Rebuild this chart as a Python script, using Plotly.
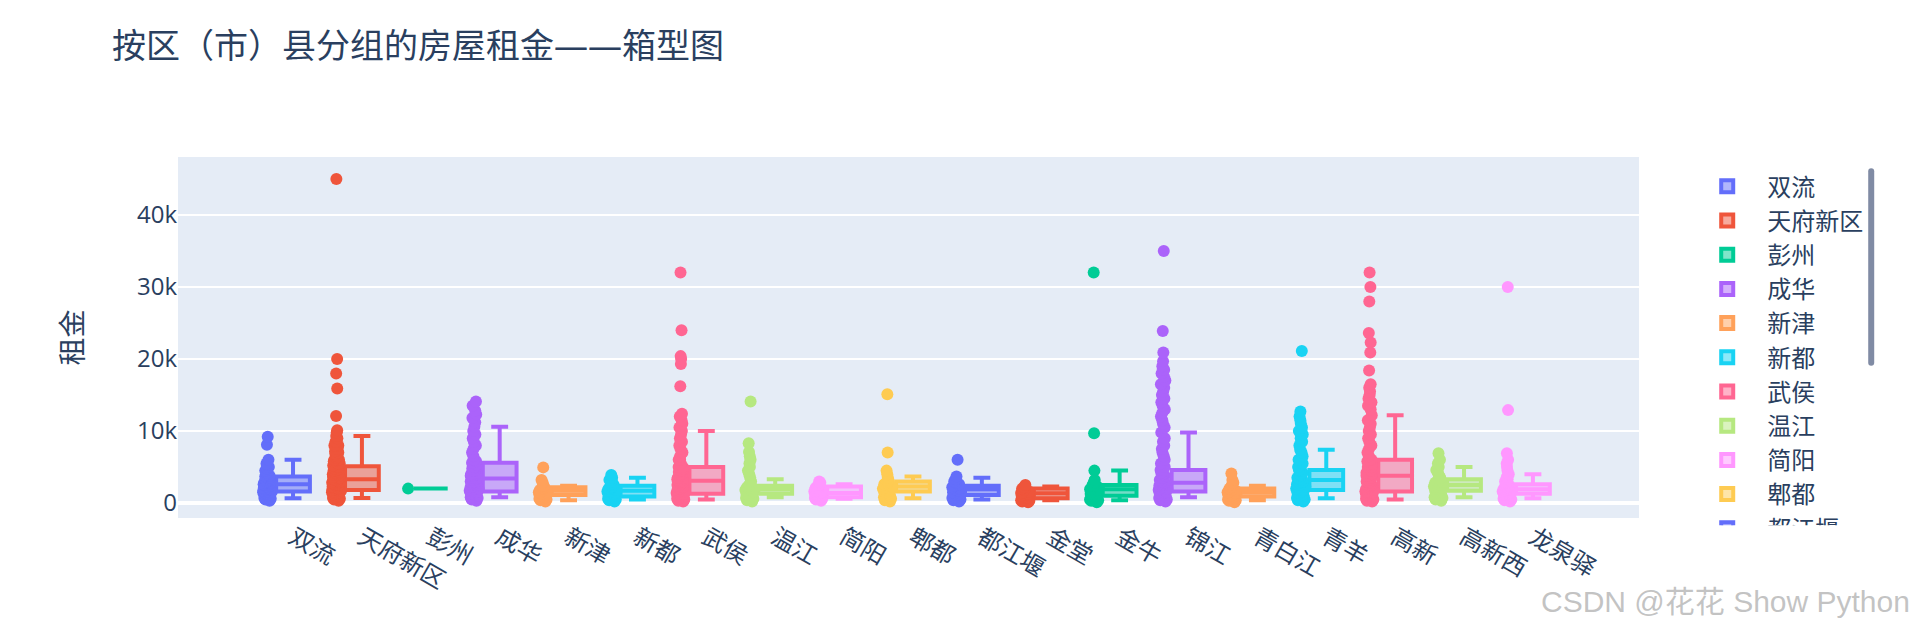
import plotly.graph_objects as go

districts = ["双流", "天府新区", "彭州", "成华", "新津", "新都", "武侯", "温江", "简阳", "郫都",
             "都江堰", "金堂", "金牛", "锦江", "青白江", "青羊", "高新", "高新西", "龙泉驿"]

colors = ["#636efa", "#EF553B", "#00cc96", "#ab63fa", "#FFA15A", "#19d3f3", "#FF6692", "#B6E880",
          "#FF97FF", "#FECB52", "#636efa", "#EF553B", "#00cc96", "#ab63fa", "#FFA15A", "#19d3f3",
          "#FF6692", "#B6E880", "#FF97FF"]

# box statistics (rent, yuan)
q1_vals = [1600, 1800, 2000, 1600, 1100, 900, 1300, 1300, 800, 1600, 1100, 650, 1000, 1600, 900, 1800, 1600, 1700, 1300]
median_vals = [2600, 3300, 2000, 3400, 1700, 1700, 3100, 1900, 1400, 2300, 1900, 1350, 1900, 2800, 1500, 3200, 3800, 2500, 1900]
q3_vals = [3700, 5100, 2000, 5600, 2200, 2400, 5000, 2400, 2300, 3000, 2400, 2000, 2500, 4600, 2000, 4600, 6000, 3300, 2600]
lower_vals = [650, 700, 2000, 800, 400, 500, 500, 800, 600, 650, 500, 400, 400, 800, 400, 650, 500, 800, 650]
upper_vals = [6000, 9300, 2000, 10600, 2400, 3500, 10000, 3300, 2600, 3700, 3500, 2300, 4500, 9800, 2400, 7400, 12200, 5000, 4000]

# sample points per district
shuangliu = [300, 500, 600, 700, 800, 900, 1000, 1000, 1100, 1200, 1200, 1300, 1400, 1500, 1500, 1600, 1600, 1700,
             1800, 1800, 1900, 2000, 2000, 2100, 2200, 2300, 2400, 2500, 2500, 2600, 2700, 2800, 2800, 3000, 3000,
             3200, 3300, 3500, 3500, 3700, 3800, 4000, 4200, 4500, 4800, 5000, 5300, 5500, 6000, 8100, 9200]
tianfu = [300, 500, 600, 700, 800, 900, 1000, 1000, 1100, 1200, 1300, 1400, 1500, 1500, 1600, 1700, 1800, 1800,
          1900, 2000, 2000, 2100, 2200, 2300, 2400, 2500, 2500, 2600, 2700, 2800, 2900, 3000, 3000, 3100, 3200,
          3300, 3400, 3500, 3500, 3600, 3800, 3900, 4000, 4000, 4200, 4300, 4500, 4500, 4700, 4800, 5000, 5000,
          5200, 5500, 5500, 5800, 6000, 6000, 6300, 6500, 6800, 7000, 7200, 7500, 8000, 8000, 8500, 9000, 9300,
          9800, 10100, 12100, 15900, 18000, 20000, 45000]
pengzhou = [2000]
chenghua = [300, 500, 700, 800, 900, 1000, 1100, 1200, 1300, 1400, 1500, 1600, 1600, 1700, 1800, 2000, 2000, 2200,
            2300, 2500, 2500, 2700, 2800, 3000, 3000, 3200, 3400, 3500, 3500, 3800, 4000, 4000, 4200, 4500, 4500,
            4800, 5000, 5000, 5300, 5600, 5800, 6000, 6500, 7000, 7500, 8000, 8500, 9000, 9500, 10000, 10600,
            11200, 11800, 12300, 12800, 13500, 14100]
xinjin = [200, 400, 500, 600, 700, 800, 900, 1000, 1000, 1100, 1200, 1300, 1400, 1500, 1500, 1600, 1700, 1800,
          2000, 2000, 2200, 2400, 2800, 3200, 4950]
xindu = [200, 400, 500, 600, 700, 800, 900, 1000, 1100, 1200, 1300, 1500, 1500, 1600, 1700, 1800, 2000, 2000,
         2200, 2300, 2500, 2700, 3000, 3200, 3500, 3900]
wuhou = [200, 300, 500, 600, 700, 800, 900, 1000, 1000, 1100, 1200, 1300, 1300, 1400, 1500, 1600, 1700, 1800,
         2000, 2000, 2200, 2300, 2500, 2500, 2700, 2800, 3000, 3000, 3100, 3300, 3500, 3500, 3800, 4000, 4000,
         4300, 4500, 4500, 4800, 5000, 5000, 5500, 6000, 6000, 6500, 7000, 7500, 8000, 8500, 9000, 9500, 10000,
         10500, 11000, 11500, 12000, 12400, 16200, 19300, 20000, 20400, 24000, 32000]
wenjiang = [200, 400, 600, 700, 800, 900, 1000, 1100, 1200, 1300, 1400, 1500, 1600, 1800, 1900, 2000, 2100, 2200,
            2400, 2600, 3000, 3500, 4000, 4500, 5000, 5500, 6000, 6500, 7100, 8300, 14100]
jianyang = [300, 500, 600, 700, 800, 900, 1000, 1100, 1200, 1300, 1400, 1400, 1500, 1600, 1700, 1800, 2000, 2100,
            2300, 2500, 2800, 3000]
pidu = [200, 400, 600, 800, 900, 1000, 1200, 1300, 1500, 1600, 1700, 1800, 2000, 2000, 2200, 2300, 2500, 2600,
        2800, 3000, 3200, 3500, 4000, 4500, 7000, 15100]
dujiangyan = [200, 400, 500, 700, 800, 1000, 1100, 1200, 1400, 1500, 1700, 1900, 2000, 2200, 2400, 2600, 2800,
              3000, 3300, 3700, 6000]
jintang = [100, 200, 300, 400, 500, 600, 700, 800, 900, 1000, 1100, 1200, 1300, 1400, 1500, 1600, 1800, 2000,
           2200, 2500]
jinniu = [100, 300, 400, 500, 700, 800, 900, 1000, 1100, 1300, 1400, 1600, 1800, 1900, 2000, 2200, 2400, 2500,
          2800, 3000, 3200, 4500, 9700, 32000]
jinjiang = [200, 400, 500, 700, 800, 900, 1000, 1100, 1200, 1400, 1500, 1600, 1600, 1800, 2000, 2000, 2200, 2400,
            2500, 2600, 2800, 2800, 3000, 3200, 3500, 3500, 3800, 4000, 4200, 4600, 5000, 5500, 6000, 6500, 7000,
            7500, 8000, 8500, 9000, 9800, 10500, 11000, 11500, 12000, 12500, 13000, 13500, 14000, 14500, 15000,
            15500, 16000, 16500, 17000, 17500, 18000, 18500, 19000, 19700, 20900, 23900, 35000]
qingbaijiang = [100, 300, 400, 500, 600, 700, 800, 900, 1000, 1100, 1200, 1300, 1400, 1500, 1600, 1700, 1800,
                2000, 2200, 2500, 2800, 3200, 4100]
qingyang = [200, 400, 500, 700, 800, 1000, 1100, 1200, 1400, 1500, 1600, 1800, 1800, 2000, 2200, 2300, 2500, 2600,
            2800, 3000, 3000, 3200, 3400, 3500, 3800, 4000, 4200, 4500, 4600, 5000, 5500, 6000, 6500, 7000, 7400,
            8000, 8500, 9000, 9500, 10000, 10500, 11000, 11500, 12000, 12700, 21100]
gaoxin = [200, 300, 500, 600, 700, 800, 900, 1000, 1100, 1200, 1300, 1400, 1500, 1600, 1600, 1800, 2000, 2000,
          2200, 2400, 2500, 2600, 2800, 3000, 3000, 3200, 3500, 3500, 3800, 3800, 4000, 4200, 4500, 4500, 4800,
          5000, 5000, 5300, 5500, 5800, 6000, 6000, 6500, 7000, 7500, 8000, 8500, 9000, 9500, 10000, 10500, 11000,
          11500, 12200, 13000, 13500, 14000, 14500, 15000, 15500, 16000, 16500, 18400, 20900, 22300, 23600, 28000,
          30000, 32000]
gaoxinxi = [300, 500, 700, 800, 1000, 1100, 1200, 1400, 1500, 1700, 1800, 2000, 2100, 2300, 2500, 2500, 2700,
            2800, 3000, 3300, 3500, 3800, 4200, 4600, 5000, 5500, 6000, 6900]
longquanyi = [200, 400, 500, 600, 700, 800, 900, 1000, 1100, 1200, 1300, 1400, 1500, 1600, 1700, 1800, 1900, 2000,
              2100, 2200, 2400, 2600, 2800, 3000, 3300, 3600, 4000, 4500, 5000, 5500, 6000, 6900, 12900, 30000]

points = [shuangliu, tianfu, pengzhou, chenghua, xinjin, xindu, wuhou, wenjiang, jianyang, pidu,
          dujiangyan, jintang, jinniu, jinjiang, qingbaijiang, qingyang, gaoxin, gaoxinxi, longquanyi]

FONT = '"Open Sans", "Noto Sans CJK SC", sans-serif'

fig = go.Figure()
for i, name in enumerate(districts):
    fig.add_trace(go.Box(
        name=name, x=[name], y=[points[i]],
        q1=[q1_vals[i]], median=[median_vals[i]], q3=[q3_vals[i]],
        lowerfence=[lower_vals[i]], upperfence=[upper_vals[i]],
        boxpoints="all", jitter=0.3, pointpos=-1.5,
        marker=dict(color=colors[i], size=12),
        line=dict(color=colors[i], width=4),
        offsetgroup=name, alignmentgroup="True",
    ))

fig.update_layout(
    width=1916, height=630,
    template="plotly",
    font=dict(family=FONT, size=24, color="#2a3f5f"),
    title=dict(text="按区（市）县分组的房屋租金——箱型图", x=112 / 1916, xanchor="left",
               y=1 - 46 / 630, yanchor="middle", yref="container", font=dict(size=34)),
    boxmode="overlay",
    margin=dict(l=178, r=277, t=157, b=112, autoexpand=False),
    xaxis=dict(tickangle=30, tickfont=dict(size=24), showgrid=False, range=[-1.67, 19.54],
               automargin=False),
    yaxis=dict(title=dict(text="租金", font=dict(size=28), standoff=45),
               range=[-2080, 48050], dtick=10000, tickfont=dict(size=24),
               gridwidth=2, zerolinewidth=4, automargin=False),
    legend=dict(x=1.033, y=0.98, xanchor="left", yanchor="top", font=dict(size=24),
                tracegroupgap=0, itemwidth=70),
    annotations=[dict(text="CSDN @花花 Show Python", xref="paper", yref="paper",
                      x=(1912 - 178) / 1461, y=(518 - 601) / 361, xanchor="right", yanchor="middle",
                      showarrow=False, font=dict(size=30, color="rgba(175,175,175,0.75)",
                                                 family='"Liberation Sans", "Noto Sans CJK SC", sans-serif'))],
)

fig.write_html("out.html")
